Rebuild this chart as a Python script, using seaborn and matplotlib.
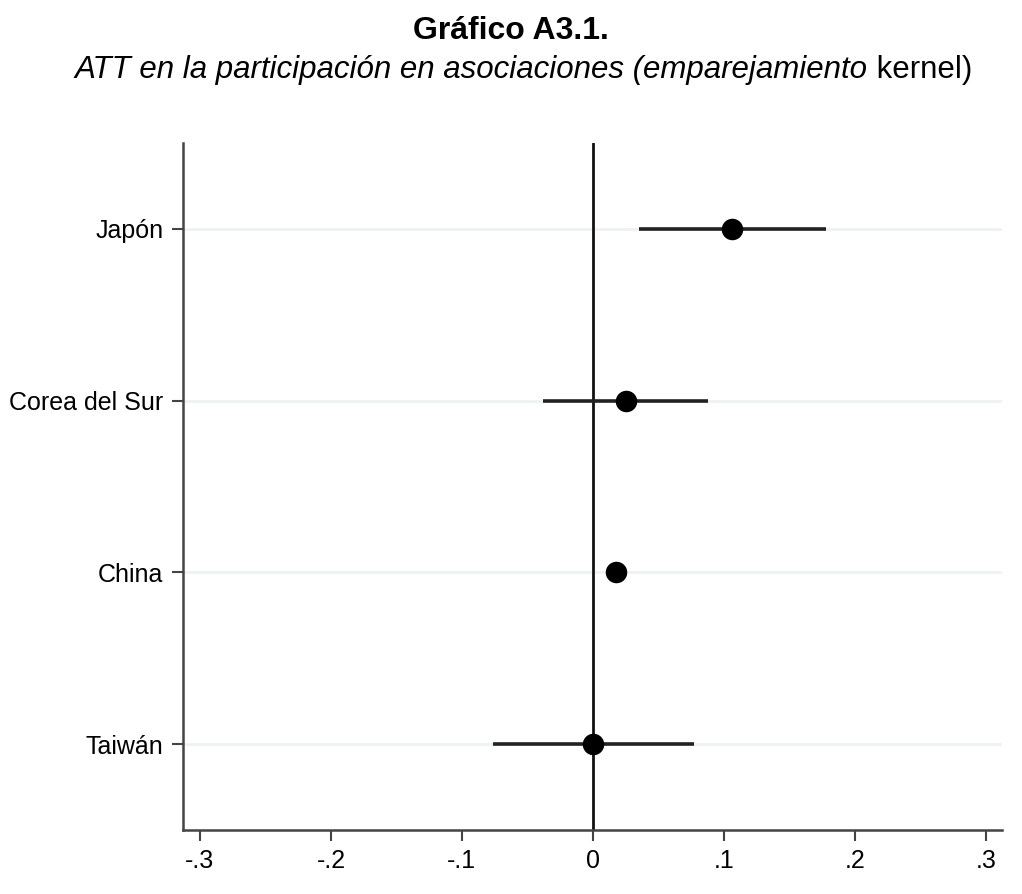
import matplotlib
matplotlib.use("Agg")
import matplotlib.pyplot as plt
import seaborn as sns
import pandas as pd

# data (top to bottom)
countries = ["Japón", "Corea del Sur", "China", "Taiwán"]
att = [0.106, 0.025, 0.018, 0.000]
ci_low = [0.035, -0.038, 0.011, -0.076]
ci_high = [0.178, 0.088, 0.026, 0.077]
xtick_vals = [-0.3, -0.2, -0.1, 0, 0.1, 0.2, 0.3]
xtick_labels = ["-.3", "-.2", "-.1", "0", ".1", ".2", ".3"]

df = pd.DataFrame({"country": countries, "att": att, "lo": ci_low, "hi": ci_high})
df["pos"] = range(len(df) - 1, -1, -1)

sns.set_theme(style="white")
plt.rcParams["font.family"] = ["Liberation Sans", "DejaVu Sans"]

fig = plt.figure(figsize=(10.22, 8.94), dpi=100)
ax = fig.add_axes([0.179, 0.0716, 0.801, 0.7684])

# light horizontal guide lines at each country
for p in df["pos"]:
    ax.axhline(p, color="#eef2f2", lw=2, zorder=0)

ax.axvline(0, color="#111111", lw=2, zorder=1)
ax.hlines(df["pos"], df["lo"], df["hi"], color="#222222", lw=2.6, zorder=2)
sns.scatterplot(data=df, x="att", y="pos", ax=ax, color="black", s=240,
                edgecolor="black", linewidth=0, zorder=3)

ax.set_xlim(-0.313, 0.312)
ax.set_ylim(-0.5, 3.5)
ax.set_yticks(df["pos"])
ax.set_yticklabels(df["country"])
ax.set_xticks(xtick_vals)
ax.set_xticklabels(xtick_labels)
ax.set_xlabel("")
ax.set_ylabel("")

for side in ["top", "right"]:
    ax.spines[side].set_visible(False)
for side in ["left", "bottom"]:
    ax.spines[side].set_color("#444444")
    ax.spines[side].set_linewidth(1.8)
ax.tick_params(axis="both", direction="out", length=8, width=1.5, color="#444444",
               labelsize=18, labelcolor="black", pad=6, left=True, bottom=True)

fig.text(0.5, 0.965, "Gráfico A3.1.", ha="center", va="center",
         fontsize=23, fontweight="bold", color="black")

# subtitle: italic part, then upright "kernel)" placed right after it
sub = fig.text(0.073, 0.922, "ATT en la participación en asociaciones (emparejamiento",
               ha="left", va="center", fontsize=22.5, style="italic", color="black")
fig.canvas.draw()
bb = sub.get_window_extent().transformed(fig.transFigure.inverted())
fig.text(bb.x1, 0.922, " kernel)", ha="left", va="center",
         fontsize=22.5, color="black")

fig.savefig("out.png", dpi=100)
